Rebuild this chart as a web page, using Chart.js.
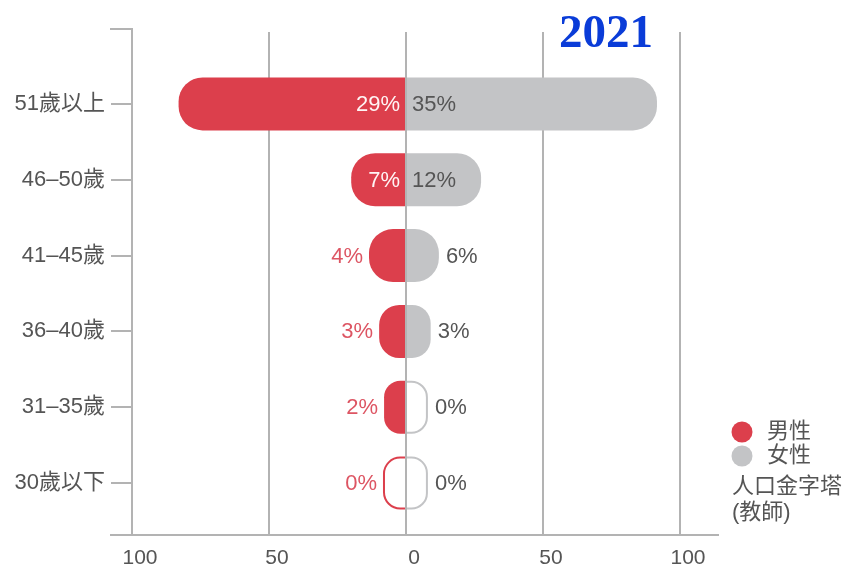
<!DOCTYPE html>
<html>
<head>
<meta charset="utf-8">
<script src="https://cdn.jsdelivr.net/npm/chart.js@4"></script>
<style>
  html, body { margin: 0; padding: 0; background: #fff; }
  #wrap { width: 851px; height: 573px; }
</style>
</head>
<body>
<div id="wrap"><canvas id="pyramid" width="851" height="573"></canvas></div>
<script>
// age groups, top to bottom
var ageGroups = ['51歲以上', '46–50歲', '41–45歲', '36–40歲', '31–35歲', '30歲以下'];
// bar lengths (male drawn to the left)
var maleBars = [83, 20, 13.5, 9.8, 8, 8.4];
var femaleBars = [91.6, 27.4, 12, 9, 8, 8];
// percentage labels printed on the bars
var malePct = [29, 7, 4, 3, 2, 0];
var femalePct = [35, 12, 6, 3, 0, 0];
var xTicks = [-100, -50, 0, 50, 100];
var legendNames = ['男性', '女性'];
var chartYear = '2021';

var RED = '#dc3f4c';
var GREY = '#c3c4c6';
var LINE = '#b3b3b3';
var TEXT = '#555555';
var FONT = "'Liberation Sans', 'Noto Sans CJK TC', sans-serif";
var colors = [RED, GREY];
var pcts = [malePct, femalePct];

// grid lines and axis lines, a bit longer than the chart area
var frame = {
  id: 'frame',
  beforeDatasetsDraw: function (chart) {
    var ctx = chart.ctx, x = chart.scales.x;
    ctx.save();
    ctx.strokeStyle = LINE;
    ctx.lineWidth = 2;
    xTicks.forEach(function (v, i) {
      var px = Math.round(x.getPixelForValue(v));
      ctx.beginPath();
      ctx.moveTo(px, i === 0 ? 29 : 32);
      ctx.lineTo(px, 535);
      ctx.stroke();
    });
    var left = Math.round(x.getPixelForValue(xTicks[0]));
    ctx.beginPath();
    ctx.moveTo(110, 29);
    ctx.lineTo(left + 1, 29);
    ctx.stroke();
    ctx.beginPath();
    ctx.moveTo(110, 535);
    ctx.lineTo(719, 535);
    ctx.stroke();
    ctx.restore();
  }
};

// rounded-end bars; the corner radius may grow past half the bar length
function roundEnd(ctx, base, end, top, bottom, inset) {
  var dir = end < base ? -1 : 1;
  var len = Math.abs(end - base);
  var r = Math.min(24, len * 0.75) - inset;
  var e = end - dir * inset;
  top += inset; bottom -= inset;
  ctx.beginPath();
  ctx.moveTo(base, top);
  ctx.lineTo(e - dir * r, top);
  ctx.arcTo(e, top, e, top + r, r);
  ctx.lineTo(e, bottom - r);
  ctx.arcTo(e, bottom, e - dir * r, bottom, r);
  ctx.lineTo(base, bottom);
}

var bars = {
  id: 'bars',
  beforeDatasetDraw: function (chart, args) {
    var ctx = chart.ctx, i = args.index;
    ctx.save();
    args.meta.data.forEach(function (bar, j) {
      var p = bar.getProps(['x', 'y', 'base', 'height'], true);
      var top = p.y - p.height / 2, bottom = p.y + p.height / 2;
      if (pcts[i][j] === 0) {
        roundEnd(ctx, p.base, p.x, top, bottom, 0);
        ctx.closePath();
        ctx.fillStyle = '#fff';
        ctx.fill();
        roundEnd(ctx, p.base, p.x, top, bottom, 1);
        ctx.strokeStyle = colors[i];
        ctx.lineWidth = 2;
        ctx.stroke();
      } else {
        roundEnd(ctx, p.base, p.x, top, bottom, 0);
        ctx.closePath();
        ctx.fillStyle = colors[i];
        ctx.fill();
      }
    });
    ctx.restore();
    return false;
  }
};

// centre line, percent labels, legend and year
var labels = {
  id: 'labels',
  afterDatasetsDraw: function (chart) {
    var ctx = chart.ctx;
    ctx.save();
    var zero = Math.round(chart.scales.x.getPixelForValue(0));
    ctx.strokeStyle = LINE;
    ctx.lineWidth = 2;
    ctx.beginPath();
    ctx.moveTo(zero, 32);
    ctx.lineTo(zero, 535);
    ctx.stroke();

    ctx.font = '22px ' + FONT;
    ctx.textBaseline = 'middle';
    chart.getDatasetMeta(0).data.forEach(function (bar, i) {
      var txt = malePct[i] + '%';
      var w = ctx.measureText(txt).width;
      var len = bar.base - bar.x;
      ctx.textAlign = 'right';
      if (len > w + 14) {
        ctx.fillStyle = '#fff5f5';
        ctx.fillText(txt, bar.base - 6, bar.y + 1);
      } else {
        ctx.fillStyle = '#dd5563';
        ctx.fillText(txt, bar.x - 6, bar.y + 1);
      }
    });
    chart.getDatasetMeta(1).data.forEach(function (bar, i) {
      var txt = femalePct[i] + '%';
      var w = ctx.measureText(txt).width;
      var len = bar.x - bar.base;
      ctx.fillStyle = TEXT;
      ctx.textAlign = 'left';
      if (len > w + 14) {
        ctx.fillText(txt, bar.base + 6, bar.y + 1);
      } else {
        ctx.fillText(txt, bar.x + 7, bar.y + 1);
      }
    });

    // legend
    colors.forEach(function (c, i) {
      var cy = 432 + i * 24;
      ctx.fillStyle = c;
      ctx.beginPath();
      ctx.arc(742, cy, 10.5, 0, Math.PI * 2);
      ctx.fill();
      ctx.fillStyle = TEXT;
      ctx.textAlign = 'left';
      ctx.fillText(legendNames[i], 767, cy);
    });
    ctx.fillText('人口金字塔', 732, 487);
    ctx.fillText('(教師)', 732, 513);

    // year
    ctx.font = 'bold 47px "Liberation Serif", serif';
    ctx.fillStyle = '#0a3cd8';
    ctx.textAlign = 'left';
    ctx.textBaseline = 'alphabetic';
    ctx.fillText(chartYear, 559, 47);
    ctx.restore();
  }
};

var ctx = document.getElementById('pyramid').getContext('2d');
new Chart(ctx, {
  type: 'bar',
  data: {
    labels: ageGroups,
    datasets: [{
      label: legendNames[0],
      data: maleBars.map(function (v) { return -v; }),
      backgroundColor: RED,
      barThickness: 53,
      grouped: false
    }, {
      label: legendNames[1],
      data: femaleBars,
      backgroundColor: GREY,
      barThickness: 53,
      grouped: false
    }]
  },
  options: {
    indexAxis: 'y',
    responsive: false,
    animation: false,
    layout: { padding: { top: 66, right: 171, left: 0, bottom: 0 } },
    plugins: {
      legend: { display: false },
      tooltip: { enabled: false },
      title: { display: false }
    },
    scales: {
      x: {
        min: -100,
        max: 100,
        afterFit: function (scale) { scale.height = 52; },
        afterBuildTicks: function (scale) {
          scale.ticks = xTicks.map(function (v) { return { value: v }; });
        },
        grid: { display: false, drawTicks: false },
        border: { display: false },
        ticks: {
          padding: 25,
          labelOffset: 8,
          color: TEXT,
          font: { size: 21, family: FONT },
          maxRotation: 0,
          callback: function (v) { return Math.abs(v); }
        }
      },
      y: {
        afterFit: function (scale) { scale.width = 132; },
        grid: { offset: false, drawOnChartArea: false, drawTicks: true, tickLength: 21, color: LINE, lineWidth: 2 },
        border: { display: false },
        ticks: {
          padding: 6,
          color: TEXT,
          font: { size: 22, family: FONT }
        }
      }
    }
  },
  plugins: [frame, bars, labels]
});
</script>
</body>
</html>
